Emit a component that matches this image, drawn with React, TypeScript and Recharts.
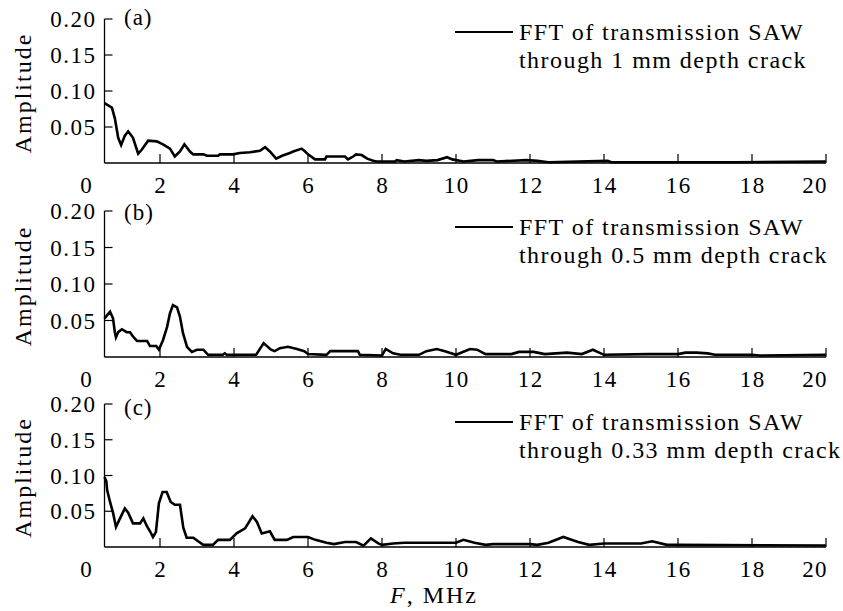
import { LineChart, Line, XAxis, YAxis, ReferenceLine, Legend, Label } from "recharts";

// frequency (MHz) / amplitude
const freqA = [0.5, 0.6, 0.7, 0.78, 0.87, 0.95, 1.05, 1.14, 1.27, 1.41, 1.5, 1.68, 1.91, 2.08, 2.27, 2.4, 2.54, 2.66, 2.81, 2.9, 3.17, 3.27, 3.57, 3.62, 3.97, 4.16, 4.43, 4.7, 4.84, 4.97, 5.14, 5.3, 5.51, 5.6, 5.83, 5.92, 6.0, 6.19, 6.46, 6.5, 7.0, 7.08, 7.22, 7.3, 7.45, 7.6, 7.76, 7.86, 8.35, 8.4, 8.6, 9.0, 9.2, 9.5, 9.76, 9.9, 10.2, 10.6, 11.0, 11.1, 11.9, 12.2, 12.5, 14.1, 14.2, 17.5, 20];
const ampA = [0.083, 0.08, 0.077, 0.062, 0.035, 0.025, 0.038, 0.044, 0.035, 0.013, 0.018, 0.031, 0.03, 0.026, 0.02, 0.009, 0.016, 0.026, 0.016, 0.012, 0.012, 0.01, 0.01, 0.012, 0.012, 0.014, 0.015, 0.017, 0.022, 0.016, 0.006, 0.01, 0.014, 0.016, 0.02, 0.016, 0.012, 0.005, 0.005, 0.009, 0.009, 0.005, 0.009, 0.012, 0.011, 0.006, 0.003, 0.002, 0.002, 0.004, 0.002, 0.004, 0.003, 0.004, 0.008, 0.005, 0.002, 0.004, 0.004, 0.002, 0.004, 0.003, 0.001, 0.003, 0.001, 0.001, 0.002];

const freqB = [0.5, 0.65, 0.73, 0.78, 0.81, 0.87, 0.97, 1.1, 1.19, 1.27, 1.38, 1.65, 1.73, 1.9, 1.97, 2.08, 2.19, 2.27, 2.35, 2.46, 2.54, 2.62, 2.73, 2.86, 3.0, 3.17, 3.3, 3.7, 3.75, 3.8, 4.6, 4.8, 5.0, 5.1, 5.24, 5.46, 5.7, 5.9, 6.0, 6.5, 6.6, 7.35, 7.4, 8.0, 8.1, 8.3, 8.5, 9.0, 9.2, 9.48, 9.7, 10.0, 10.38, 10.57, 10.8, 11.5, 11.7, 12.1, 12.4, 13.0, 13.4, 13.7, 14.0, 15.2, 16.0, 16.2, 16.5, 16.8, 17.0, 18.0, 18.2, 20];
const ampB = [0.053, 0.062, 0.053, 0.034, 0.027, 0.034, 0.038, 0.034, 0.034, 0.028, 0.022, 0.022, 0.015, 0.015, 0.01, 0.023, 0.041, 0.06, 0.071, 0.068, 0.055, 0.033, 0.014, 0.007, 0.01, 0.01, 0.003, 0.003, 0.005, 0.003, 0.003, 0.019, 0.01, 0.008, 0.012, 0.014, 0.011, 0.008, 0.004, 0.003, 0.008, 0.008, 0.003, 0.002, 0.011, 0.005, 0.003, 0.003, 0.008, 0.011, 0.008, 0.003, 0.011, 0.01, 0.004, 0.004, 0.007, 0.007, 0.004, 0.006, 0.004, 0.01, 0.003, 0.004, 0.004, 0.006, 0.006, 0.005, 0.003, 0.003, 0.002, 0.003];

const freqC = [0.5, 0.55, 0.57, 0.65, 0.73, 0.81, 0.9, 1.05, 1.14, 1.27, 1.46, 1.55, 1.64, 1.73, 1.81, 1.89, 1.97, 2.07, 2.18, 2.29, 2.4, 2.54, 2.63, 2.72, 2.9, 3.03, 3.17, 3.43, 3.57, 3.89, 3.97, 4.07, 4.3, 4.5, 4.62, 4.75, 4.97, 5.1, 5.43, 5.6, 6.0, 6.2, 6.5, 6.7, 7.0, 7.3, 7.5, 7.7, 7.9, 8.0, 8.3, 8.6, 9.0, 10.0, 10.2, 10.5, 10.8, 11.0, 12.0, 12.2, 12.5, 12.9, 13.3, 13.6, 14.0, 15.0, 15.3, 15.7, 16.0, 20.0];
const ampC = [0.098, 0.092, 0.08, 0.063, 0.048, 0.028, 0.038, 0.054, 0.048, 0.033, 0.033, 0.04, 0.03, 0.022, 0.014, 0.021, 0.061, 0.077, 0.077, 0.063, 0.059, 0.059, 0.027, 0.013, 0.013, 0.008, 0.003, 0.003, 0.01, 0.01, 0.014, 0.019, 0.026, 0.043, 0.035, 0.019, 0.022, 0.01, 0.01, 0.014, 0.014, 0.01, 0.006, 0.004, 0.007, 0.007, 0.002, 0.012, 0.005, 0.003, 0.005, 0.006, 0.006, 0.006, 0.01, 0.006, 0.003, 0.004, 0.004, 0.003, 0.006, 0.014, 0.007, 0.003, 0.005, 0.005, 0.008, 0.003, 0.003, 0.002];

const panelTags = ["(a)", "(b)", "(c)"];
const crackDepths = ["1", "0.5", "0.33"];
const seriesName = "FFT of transmission SAW";
const xTicks = [0, 2, 4, 6, 8, 10, 12, 14, 16, 18, 20];
const yTicks = [0.05, 0.1, 0.15, 0.2];

const W = 843;
const PLOT_LEFT = 86;
const PLOT_RIGHT = 17;
const AXIS_START = 0.5; // both axes start at 0.5 MHz in the original
const axisShift = (AXIS_START / 20) * (W - PLOT_LEFT - PLOT_RIGHT);
const FONT = "'Liberation Serif', 'Times New Roman', serif";

function XTick({ x, y, payload }: any) {
  const lastTick = payload.value === 20;
  return (
    <g>
      {payload.value !== 0 && <line x1={x} x2={x} y1={y} y2={y - 9} stroke="#000" strokeWidth={1.2} />}
      <text
        x={lastTick ? x + 2 : x + 0.7}
        y={y + 30}
        textAnchor={lastTick ? "end" : "middle"}
        fontFamily={FONT}
        fontSize={23}
        letterSpacing={1.4}
        fill="#000"
      >
        {payload.value}
      </text>
    </g>
  );
}

function YTick({ x, y, payload }: any) {
  const ax = x + axisShift;
  return (
    <g>
      <line x1={ax} x2={ax + 8} y1={y} y2={y} stroke="#000" strokeWidth={1.2} />
      <text x={ax - 8} y={y} dy="0.35em" textAnchor="end" fontFamily={FONT} fontSize={23} letterSpacing={1.5} fill="#000">
        {payload.value.toFixed(2)}
      </text>
    </g>
  );
}

function Panel({ freq, amp, idx, height, top, axisHeight }: any) {
  const data = freq.map((f: number, i: number) => ({ f, amp: amp[i] }));
  const last = idx === 2;
  return (
    <LineChart width={W} height={height} data={data} margin={{ top, right: PLOT_RIGHT, bottom: 0, left: 0 }}>
      <XAxis
        dataKey="f"
        type="number"
        domain={[0, 20]}
        ticks={xTicks}
        interval={0}
        axisLine={false}
        tickLine={false}
        tickSize={0}
        tickMargin={0}
        height={axisHeight}
        tick={(p: any) => <XTick {...p} />}
      >
        {last && (
          <Label
            content={({ viewBox }: any) => (
              <text
                x={viewBox.x + viewBox.width / 2 - 22}
                y={viewBox.y + 56}
                textAnchor="middle"
                fontFamily={FONT}
                fontSize={24}
                letterSpacing={2}
                fill="#000"
              >
                <tspan fontStyle="italic">F</tspan>, MHz
              </text>
            )}
          />
        )}
      </XAxis>
      <YAxis
        type="number"
        domain={[0, 0.2]}
        ticks={yTicks}
        interval={0}
        width={PLOT_LEFT}
        axisLine={false}
        tickLine={false}
        tickSize={0}
        tickMargin={0}
        tick={(p: any) => <YTick {...p} />}
      >
        <Label
          content={({ viewBox }: any) => {
            const cx = viewBox.x + 31;
            const cy = viewBox.y + viewBox.height / 2 + 2;
            return (
              <text
                x={cx}
                y={cy}
                transform={`rotate(-90, ${cx}, ${cy})`}
                textAnchor="middle"
                fontFamily={FONT}
                fontSize={24}
                letterSpacing={2}
                fill="#000"
              >
                Amplitude
              </text>
            );
          }}
        />
      </YAxis>
      <ReferenceLine
        segment={[{ x: AXIS_START, y: 0 }, { x: 20, y: 0 }]}
        stroke="#000"
        strokeWidth={1.3}
        ifOverflow="visible"
      />
      <ReferenceLine
        segment={[{ x: AXIS_START, y: 0 }, { x: AXIS_START, y: 0.2 }]}
        stroke="#000"
        strokeWidth={1.3}
        ifOverflow="visible"
      />
      <Line
        dataKey="amp"
        name={seriesName}
        type="linear"
        stroke="#000"
        strokeWidth={2.6}
        dot={false}
        isAnimationActive={false}
      />
      <Legend
        layout="vertical"
        align="center"
        verticalAlign="middle"
        wrapperStyle={{ top: 0, left: 0, width: W, height: 80 }}
        content={({ payload }: any) => (
          <div style={{ position: "relative", width: W, height: 80, fontFamily: FONT, color: "#000" }}>
            <span style={{ position: "absolute", left: 124, top: 5, fontSize: 23, letterSpacing: 1 }}>{panelTags[idx]}</span>
            {(payload || []).map((entry: any) => (
              <div key={entry.value}>
                <div style={{ position: "absolute", left: 455, top: 31, width: 58, borderTop: `2px solid ${entry.color}` }} />
                <div style={{ position: "absolute", left: 519, top: 18, fontSize: 24, lineHeight: "28px", letterSpacing: 1.45, whiteSpace: "nowrap" }}>
                  {entry.value}
                  <br />
                  through {crackDepths[idx]} mm depth crack
                </div>
              </div>
            ))}
          </div>
        )}
      />
    </LineChart>
  );
}

export default function App() {
  return (
    <div style={{ position: "absolute", left: 0, top: 0, width: W, height: 611, background: "#fff" }}>
      <div style={{ position: "absolute", left: 0, top: 0 }}>
        <Panel freq={freqA} amp={ampA} idx={0} height={200} top={19} axisHeight={37} />
      </div>
      <div style={{ position: "absolute", left: 0, top: 195 }}>
        <Panel freq={freqB} amp={ampB} idx={1} height={200} top={16} axisHeight={38} />
      </div>
      <div style={{ position: "absolute", left: 0, top: 390 }}>
        <Panel freq={freqC} amp={ampC} idx={2} height={221} top={14} axisHeight={64} />
      </div>
    </div>
  );
}
